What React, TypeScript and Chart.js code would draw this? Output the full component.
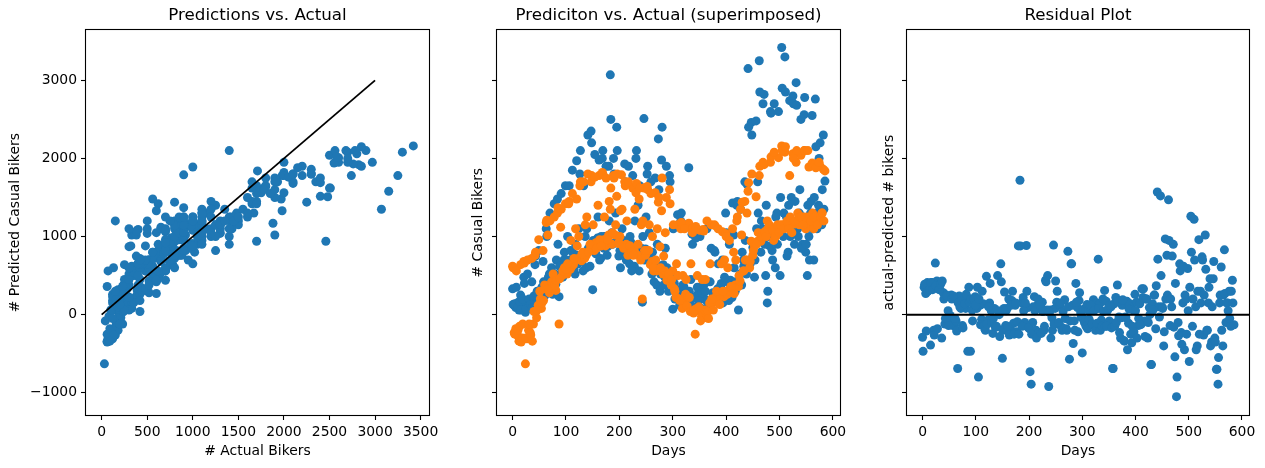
import { useEffect, useRef } from "react";
import { Chart, registerables, type ChartConfiguration, type Plugin } from "chart.js";

Chart.register(...registerables);

// first sample of days (every third day from 0)
const days = [
  0, 3, 6, 9, 12, 15, 18, 21, 24, 27, 30, 33, 36, 39, 42, 45, 48, 51, 54, 57, 60,
  63, 66, 69, 72, 75, 78, 81, 84, 87, 90, 93, 96, 99, 102, 105, 108, 111, 114, 117, 120, 123,
  126, 129, 132, 135, 138, 141, 144, 147, 150, 153, 156, 159, 162, 165, 168, 171, 174, 177, 180, 183, 186,
  189, 192, 195, 198, 201, 204, 207, 210, 213, 216, 219, 222, 225, 228, 231, 234, 237, 240, 243, 246, 249,
  252, 255, 258, 261, 264, 267, 270, 273, 276, 279, 282, 285, 288, 291, 294, 297, 300, 303, 306, 309, 312,
  315, 318, 321, 324, 327, 330, 333, 336, 339, 342, 345, 348, 351, 354, 357, 360, 363, 366, 369, 372, 375,
  378, 381, 384, 387, 390, 393, 396, 399, 402, 405, 408, 411, 414, 417, 420, 423, 426, 429, 432, 435, 438,
  441, 444, 447, 450, 453, 456, 459, 462, 465, 468, 471, 474, 477, 480, 483, 486, 489, 492, 495, 498, 501,
  504, 507, 510, 513, 516, 519, 522, 525, 528, 531, 534, 537, 540, 543, 546, 549, 552, 555, 558, 561, 564,
  567, 570, 573, 576, 579, 582, 585,
];

const actual = [
  330, 120, 90, 150, 60, 250, 110, 480, 30, 120, 180, 90, 420, 160, 640, 210, 170, 250, 330, 680, 240,
  1100, 330, 520, 430, 260, 1420, 390, 1480, 230, 650, 560, 700, 1650, 600, 620, 700, 560, 780, 520, 1970, 650,
  1800, 740, 560, 800, 600, 2300, 820, 2350, 320, 900, 780, 980, 1980, 720, 2000, 850, 1000, 760, 1900, 3070, 1050,
  2000, 920, 2400, 1000, 820, 900, 780, 1930, 700, 880, 650, 920, 1780, 620, 2000, 820, 560, 760, 160, 2510, 840,
  1800, 700, 760, 520, 600, 1750, 380, 2250, 300, 1980, 640, 480, 1900, 560, 1780, 400, 70, 400, 300, 1280, 250,
  1200, 190, 350, 120, 260, 1880, 180, 1030, 220, 60, 250, 110, 1000, 80, 400, 200, 180, 420, 120, 850, 280,
  820, 200, 330, 150, 380, 700, 290, 1300, 420, 180, 440, 220, 1020, 300, 1400, 60, 520, 380, 700, 1700, 520,
  3150, 700, 2460, 860, 480, 2480, 1700, 3250, 800, 1100, 2820, 500, 150, 1000, 2600, 820, 1100, 600, 1300, 2600, 500,
  3420, 1000, 3300, 1250, 800, 2740, 1500, 2800, 900, 2970, 1100, 1300, 2500, 900, 2560, 800, 500, 1000, 1300, 2550, 700,
  2760, 1100, 1400, 2200, 1150, 2300, 1710,
];

const predicted = [
  620, -230, -180, -260, -340, 640, -300, 680, -630, -310, -200, -230, 720, -120, 760, -40, 120, 300, 80, 820, 380,
  1180, 1020, 280, 350, 400, 1250, 310, 1300, -120, 1120, 500, 560, 1420, 520, 1420, 580, 620, 640, 700, 1480, 720,
  1650, 690, 800, 720, 760, 1800, 820, 1700, 880, 820, 920, 900, 1780, 900, 1820, 960, 880, 980, 1020, 1350, 900,
  1780, 1020, 1515, 910, 1000, 1790, 880, 1700, 900, 760, 880, 820, 1620, 820, 1560, 760, 1480, 700, 200, 1620, 760,
  1640, 820, 640, 680, 560, 1560, 560, 1440, 870, 1330, 520, 560, 1500, 470, 1600, 380, 560, 330, 220, 1150, 200,
  1100, 80, 160, 260, 110, 1170, 40, 1100, 20, -250, 80, 50, 1080, -20, 1090, 60, -40, 40, 150, 1150, 160,
  1150, 230, 160, 260, 240, 1060, 230, 1040, 260, 320, 300, 340, 800, 380, 1200, 360, 430, 1020, 560, 1450, 700,
  1580, 600, 940, 760, 880, 1510, 940, 1780, 940, 1000, 1920, 1040, 1200, 1100, 1950, 1050, 950, 1050, 1100, 2010, 1100,
  2160, 1150, 2080, 1150, 1200, 1780, 1200, 2060, 1160, 1950, 1300, 1150, 2040, 1250, 2100, 1100, 1200, 1890, 1150, 1940, 1100,
  1930, 1200, 1250, 1900, 1300, 1860, 1840,
];

// second sample of days (every third day from 1)
const daysB = [
  1, 4, 7, 10, 13, 16, 19, 22, 25, 28, 31, 34, 37, 40, 43, 46, 49, 52, 55, 58, 61,
  64, 67, 70, 73, 76, 79, 82, 85, 88, 91, 94, 97, 100, 103, 106, 109, 112, 115, 118, 121, 124,
  127, 130, 133, 136, 139, 142, 145, 148, 151, 154, 157, 160, 163, 166, 169, 172, 175, 178, 181, 184, 187,
  190, 193, 196, 199, 202, 205, 208, 211, 214, 217, 220, 223, 226, 229, 232, 235, 238, 241, 244, 247, 250,
  253, 256, 259, 262, 265, 268, 271, 274, 277, 280, 283, 286, 289, 292, 295, 298, 301, 304, 307, 310, 313,
  316, 319, 322, 325, 328, 331, 334, 337, 340, 343, 346, 349, 352, 355, 358, 361, 364, 367, 370, 373, 376,
  379, 382, 385, 388, 391, 394, 397, 400, 403, 406, 409, 412, 415, 418, 421, 424, 427, 430, 433, 436, 439,
  442, 445, 448, 451, 454, 457, 460, 463, 466, 469, 472, 475, 478, 481, 484, 487, 490, 493, 496, 499, 502,
  505, 508, 511, 514, 517, 520, 523, 526, 529, 532, 535, 538, 541, 544, 547, 550, 553, 556, 559, 562, 565,
  568, 571, 574, 577, 580, 583,
];

const actualB = [
  130, 140, 350, 100, 170, 60, 200, 400, 70, 520, 200, 130, 90, 240, 750, 300, 820, 190, 350, 420, 280,
  1000, 480, 1300, 600, 350, 520, 700, 900, 620, 1550, 480, 800, 700, 1000, 1650, 820, 1850, 580, 900, 760, 1100,
  2100, 680, 1650, 1000, 1100, 850, 620, 2200, 950, 2050, 900, 1250, 700, 1000, 2100, 1000, 1900, 870, 1200, 2500, 900,
  1800, 1300, 2100, 750, 600, 1100, 950, 1700, 900, 1900, 1000, 560, 800, 1200, 2100, 1400, 1650, 850, 1000, 700, 1250,
  1900, 1050, 1700, 800, 420, 650, 900, 1600, 520, 2400, 380, 850, 600, 300, 1700, 420, 1100, 200, 500, 320, 120,
  1300, 380, 1150, 250, 120, 300, 450, 900, 100, 980, 350, 180, 40, 280, 380, 300, 1100, 120, 420, 160, 250,
  800, 260, 650, 200, 400, 150, 480, 1050, 300, 900, 230, 1430, 600, 420, 1450, 400, 1350, 800, 620, 950, 1670,
  2400, 650, 2300, 900, 700, 1100, 1300, 2850, 1200, 2700, 900, 1400, 300, 880, 2580, 700, 2700, 1250, 900, 1100, 1500,
  2900, 1300, 2850, 750, 1400, 1000, 1200, 2700, 1450, 2680, 1000, 1600, 850, 1250, 2780, 900, 1400, 700, 1450, 1100, 1500,
  2150, 1300, 2000, 1200, 1600, 1350,
];

const predictedB = [
  600, -250, 560, -200, -150, -350, -120, 660, -300, 700, -120, -260, -340, 40, 800, 60, 960, 200, 150, 180, 330,
  1210, 330, 1200, 420, 520, 380, 440, 1370, 460, 1350, 560, 600, 580, 650, 1450, 950, 1550, 720, 1100, 880, 1000,
  1700, 780, 1700, 1150, 1250, 800, 900, 1780, 1150, 1760, 850, 1400, 960, 880, 1800, 1250, 1750, 960, 1450, 1620, 1050,
  1750, 1150, 1800, 920, 1330, 1350, 850, 1650, 1200, 1700, 880, 800, 760, 1350, 1680, 900, 1620, 1150, 1200, 820, 820,
  1600, 1150, 1550, 1000, 600, 700, 1100, 1500, 600, 1750, 750, 1050, 440, 520, 1420, 450, 1150, 300, 650, 500, 180,
  1180, 500, 1100, 450, 230, 220, 650, 1050, 60, 1130, 500, 100, -80, 450, 1070, 450, 1200, -50, 650, 200, 60,
  1140, 300, 1100, 130, 650, 300, 700, 1000, 600, 950, 360, 1100, 270, 700, 1250, 500, 1350, 1440, 560, 700, 1300,
  1690, 680, 1800, 820, 920, 900, 1050, 1900, 1000, 1950, 1060, 1000, 1100, 1150, 2020, 1080, 2080, 1000, 1150, 1050, 1150,
  2100, 1100, 2150, 1200, 1100, 1250, 1050, 2000, 1200, 2100, 1200, 1250, 1250, 1150, 2100, 1250, 2100, 1250, 1200, 1300, 1250,
  1880, 1150, 1950, 1250, 1300, 1200,
];

const allDays = [...days, ...daysB];
const allActual = [...actual, ...actualB];
const allPredicted = [...predicted, ...predictedB];
const residual = allActual.map((a, i) => a - allPredicted[i]);

const yTicks = [-1000, 0, 1000, 2000, 3000];
const bikerTicks = [0, 500, 1000, 1500, 2000, 2500, 3000, 3500];
const dayTicks = [0, 100, 200, 300, 400, 500, 600];
const identityLine = [0, 3000];

const Y_RANGE = [-1285, 3640];
const BIKER_RANGE = [-172, 3592];
const DAY_RANGE = [-29.2, 613.2];

const BLUE = "#1f77b4";
const ORANGE = "#ff7f0e";
const TICK_FONT = { family: "DejaVu Sans", size: 13.9 };

Chart.defaults.font.family = "DejaVu Sans";
Chart.defaults.color = "#000";

const fmt = (v: number) => (v < 0 ? `\u2212${Math.abs(v)}` : String(v));

// matplotlib draws all four spines
const framePlugin: Plugin = {
  id: "frame",
  afterDatasetsDraw(chart) {
    const { ctx, chartArea: a } = chart;
    ctx.save();
    ctx.strokeStyle = "#000";
    ctx.lineWidth = 1.1;
    const l = Math.round(a.left) - 0.5;
    const t = Math.round(a.top) - 0.5;
    const r = Math.round(a.right) + 0.5;
    const b = Math.round(a.bottom) + 0.5;
    ctx.strokeRect(l, t, r - l, b - t);
    ctx.restore();
  },
};

type PanelProps = {
  left: number;
  width: number;
  axisWidth: number;
  padRight: number;
  title: string;
  xTitle: string;
  yTitle: string;
  yTitlePad: number;
  xRange: number[];
  xTicks: number[];
  yLabels: boolean;
  datasets: any[];
};

function Panel(p: PanelProps) {
  const canvasRef = useRef<HTMLCanvasElement | null>(null);

  useEffect(() => {
    const el = canvasRef.current;
    if (!el) return;

    const grid = {
      display: true,
      drawOnChartArea: false,
      drawTicks: true,
      tickLength: 5,
      color: "#000",
      tickWidth: 1.1,
    };

    const cfg: ChartConfiguration<"scatter"> = {
      type: "scatter",
      data: { datasets: p.datasets },
      options: {
        animation: false,
        responsive: true,
        maintainAspectRatio: false,
        layout: { padding: { left: 0, right: p.padRight, top: 0, bottom: 0 } },
        plugins: {
          legend: { display: false },
          tooltip: { enabled: false },
          title: {
            display: true,
            text: p.title,
            fullSize: false,
            color: "#000",
            font: { family: "DejaVu Sans", size: 16.7, weight: "normal" },
            padding: { top: 6, bottom: 4.3 },
          },
        },
        scales: {
          x: {
            type: "linear",
            min: p.xRange[0],
            max: p.xRange[1],
            afterBuildTicks: (s: any) => {
              s.ticks = p.xTicks.map((value) => ({ value }));
            },
            afterFit: (s: any) => {
              s.height = 53;
            },
            grid,
            border: { display: false },
            ticks: {
              padding: 4,
              font: TICK_FONT,
              color: "#000",
              maxRotation: 0,
              autoSkip: false,
              callback: (v: string | number) => fmt(Number(v)),
            },
            title: {
              display: true,
              text: p.xTitle,
              color: "#000",
              font: TICK_FONT,
              padding: { top: 0, bottom: 8.6 },
            },
          },
          y: {
            type: "linear",
            min: Y_RANGE[0],
            max: Y_RANGE[1],
            afterBuildTicks: (s: any) => {
              s.ticks = yTicks.map((value) => ({ value }));
            },
            afterFit: (s: any) => {
              s.width = p.axisWidth;
            },
            grid,
            border: { display: false },
            ticks: {
              display: p.yLabels,
              padding: 4,
              font: TICK_FONT,
              color: "#000",
              callback: (v: string | number) => fmt(Number(v)),
            },
            title: {
              display: true,
              text: p.yTitle,
              color: "#000",
              font: TICK_FONT,
              padding: { top: p.yTitlePad, bottom: 0 },
            },
          },
        },
      },
      plugins: [framePlugin],
    };

    const chart = new Chart(el, cfg);
    return () => chart.destroy();
  }, [p]);

  return (
    <div style={{ position: "absolute", left: p.left, top: 0, width: p.width, height: 468 }}>
      <canvas ref={canvasRef} />
    </div>
  );
}

const dots = (xs: number[], ys: number[], color: string, order: number) => ({
  data: xs.map((x, i) => ({ x, y: ys[i] })),
  backgroundColor: color,
  borderWidth: 0,
  pointRadius: 4.5,
  pointHoverRadius: 4.5,
  order,
});

const refLine = (xs: number[], ys: number[], width: number) => ({
  data: xs.map((x, i) => ({ x, y: ys[i] })),
  showLine: true,
  borderColor: "#000",
  borderWidth: width,
  pointRadius: 0,
  order: 0,
});

const panels: PanelProps[] = [
  {
    left: 0,
    width: 459,
    axisWidth: 86,
    padRight: 30,
    title: "Predictions vs. Actual",
    xTitle: "# Actual Bikers",
    yTitle: "# Predicted Casual Bikers",
    yTitlePad: 6.6,
    xRange: BIKER_RANGE,
    xTicks: bikerTicks,
    yLabels: true,
    datasets: [dots(allActual, allPredicted, BLUE, 1), refLine(identityLine, identityLine, 1.8)],
  },
  {
    left: 459,
    width: 411,
    axisWidth: 38,
    padRight: 30,
    title: "Prediciton vs. Actual (superimposed)",
    xTitle: "Days",
    yTitle: "# Casual Bikers",
    yTitlePad: 10.6,
    xRange: DAY_RANGE,
    xTicks: dayTicks,
    yLabels: false,
    datasets: [dots(allDays, allActual, BLUE, 2), dots(allDays, allPredicted, ORANGE, 1)],
  },
  {
    left: 870,
    width: 395,
    axisWidth: 37,
    padRight: 16,
    title: "Residual Plot",
    xTitle: "Days",
    yTitle: "actual-predicted # bikers",
    yTitlePad: 10.6,
    xRange: DAY_RANGE,
    xTicks: dayTicks,
    yLabels: false,
    datasets: [dots(allDays, residual, BLUE, 1), refLine(DAY_RANGE, [0, 0], 2)],
  },
];

export default function App() {
  return (
    <div
      style={{
        position: "absolute",
        left: 0,
        top: 0,
        width: 1265,
        height: 468,
        background: "#fff",
        overflow: "hidden",
      }}
    >
      {panels.map((p) => (
        <Panel key={p.title} {...p} />
      ))}
    </div>
  );
}
